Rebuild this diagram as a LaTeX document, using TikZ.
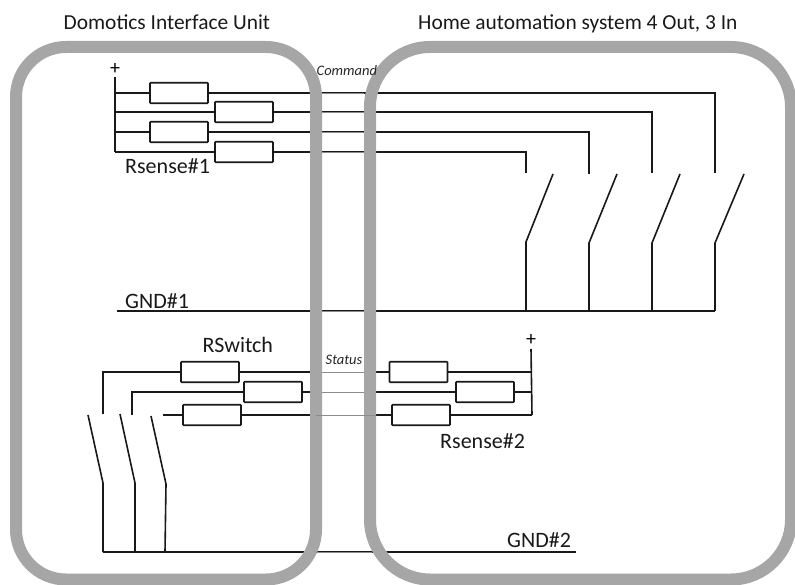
\documentclass[tikz,border=0pt]{standalone}
\usepackage{fontspec}
\setmainfont{Carlito}
\tikzset{
  x=1pt,y=-1pt,
  res/.style={draw=black!90,line width=1.6pt,fill=white,rounded corners=0.8pt,minimum width=58pt,minimum height=20.5pt,inner sep=0pt,outer sep=0pt},
  wire/.style={draw=black!90,line width=1.6pt},
  link/.style={draw=black!45,line width=0.8pt},
  frame/.style={draw=black!35,line width=12pt},
  lab/.style={inner sep=0pt,font=\fontsize{22}{24}\selectfont,text=black!90},
  ttl/.style={inner sep=0pt,font=\fontsize{21.4}{24}\selectfont,text=black!90},
  small/.style={inner sep=0pt,font=\itshape\fontsize{14.5}{16}\selectfont,text=black!85},
  plus/.style={inner sep=0pt,font=\fontsize{20}{22}\selectfont},
}
\begin{document}
\begin{tikzpicture}
\useasboundingbox (0,0) rectangle (795,585);
% named points
\coordinate (ct) at (115,77); \coordinate (cb) at (115,152);
\coordinate (c1) at (115,93); \coordinate (c2) at (115,112); \coordinate (c3) at (115,132);
\coordinate (a1) at (715,93); \coordinate (a2) at (652,112); \coordinate (a3) at (589,132); \coordinate (a4) at (526,152);
\coordinate (t1) at (715,173); \coordinate (t2) at (652,173); \coordinate (t3) at (589,174); \coordinate (t4) at (526,173);
\coordinate (h1) at (715,243); \coordinate (h2) at (652,243); \coordinate (h3) at (589,243); \coordinate (h4) at (526,242);
\coordinate (e1) at (744,174); \coordinate (e2) at (680,174); \coordinate (e3) at (617,174); \coordinate (e4) at (553,174);
\coordinate (g1s) at (117,311); \coordinate (g1e) at (715,311);
\coordinate (b1) at (715,311); \coordinate (b2) at (652,311); \coordinate (b3) at (589,311); \coordinate (b4) at (526,311);
% command resistors
\node[res] (r1) at (179,93) {};
\node[res] (r2) at (244,112) {};
\node[res] (r3) at (179,132) {};
\node[res] (r4) at (244,152) {};
% status resistors
\node[res] (s1) at (210,372) {};
\node[res] (s2) at (273,392) {};
\node[res] (s3) at (212,415) {};
\node[res] (q1) at (418.5,372) {};
\node[res] (q2) at (485,392) {};
\node[res] (q3) at (421,415) {};
% lower points
\coordinate (l1) at (103,372); \coordinate (l2) at (132,392); \coordinate (l3) at (163,415);
\coordinate (lt1) at (103,414); \coordinate (lt2) at (132,415);
\coordinate (sw1a) at (88,415); \coordinate (sw1b) at (103,483); \coordinate (sw1c) at (103,552);
\coordinate (sw2a) at (120,414); \coordinate (sw2b) at (135,483); \coordinate (sw2c) at (135,552);
\coordinate (sw3a) at (151,416); \coordinate (sw3b) at (166,484); \coordinate (sw3c) at (165,552);
\coordinate (g2e) at (576,552);
\coordinate (pt) at (531,349); \coordinate (p1) at (531,372); \coordinate (p2) at (531,392); \coordinate (pb) at (532,415);
\coordinate (f1a) at (322,372); \coordinate (f1b) at (376,372);
\coordinate (f2a) at (322,392); \coordinate (f2b) at (376,392);
\coordinate (f3a) at (318,415); \coordinate (f3b) at (373,415);
% upper wires
\draw[wire] (ct) -- (cb);
\draw[wire] (c1) -- (r1.west) (r1.east) -- (a1) -- (t1);
\draw[wire] (c2) -- (r2.west) (r2.east) -- (a2) -- (t2);
\draw[wire] (c3) -- (r3.west) (r3.east) -- (a3) -- (t3);
\draw[wire] (cb) -- (r4.west) (r4.east) -- (a4) -- (t4);
\draw[wire] (e1) -- (h1) -- (b1);
\draw[wire] (e2) -- (h2) -- (b2);
\draw[wire] (e3) -- (h3) -- (b3);
\draw[wire] (e4) -- (h4) -- (b4);
\draw[wire] (g1s) -- (g1e);
% lower wires
\draw[wire] (lt1) -- (l1) -- (s1.west) (s1.east) -- (f1a);
\draw[wire] (lt2) -- (l2) -- (s2.west) (s2.east) -- (f2a);
\draw[wire] (l3) -- (s3.west) (s3.east) -- (f3a);
\draw[wire] (sw1a) -- (sw1b) -- (sw1c);
\draw[wire] (sw2a) -- (sw2b) -- (sw2c);
\draw[wire] (sw3a) -- (sw3b) -- (sw3c);
\draw[wire] (sw1c) -- (g2e);
\draw[wire] (pt) -- (pb);
\draw[wire] (f1b) -- (q1.west) (q1.east) -- (p1);
\draw[wire] (f2b) -- (q2.west) (q2.east) -- (p2);
\draw[wire] (f3b) -- (q3.west) (q3.east) -- (pb);
% frames
\path[frame,rounded corners=50pt] (16,47) rectangle (316,579.5);
\path[frame,rounded corners=60pt] (370,47) rectangle (791,579.5);
% thin links across the gap
\coordinate (m1) at (322,93); \coordinate (n1) at (364,93);
\coordinate (m2) at (322,112); \coordinate (n2) at (364,112);
\coordinate (m3) at (322,132); \coordinate (n3) at (364,132);
\coordinate (m4) at (322,152); \coordinate (n4) at (364,152);
\coordinate (m5) at (322,311); \coordinate (n5) at (364,311);
\coordinate (m6) at (322,372); \coordinate (n6) at (364,372);
\coordinate (m7) at (322,392); \coordinate (n7) at (364,392);
\coordinate (m8) at (316,415); \coordinate (n8) at (376,415);
\coordinate (m9) at (316,552); \coordinate (n9) at (372,552);
\foreach \i in {1,...,9} {\draw[link] (m\i) -- (n\i);}
% labels
\node[ttl,anchor=base west] (title1) at (63.5,30) {Domotics Interface Unit};
\node[ttl,anchor=base west] (title2) at (418,30) {Home automation system 4 Out, 3 In};
\node[small,anchor=west] (cmd) at (316.5,71) {Command};
\node[small,anchor=west] (sts) at (325.5,360) {Status};
\node[lab,anchor=west] (rs1) at (125,166) {Rsense\#1};
\node[lab,anchor=west] (rsw) at (202.5,345) {RSwitch};
\node[lab,anchor=west] (rs2) at (440,441) {Rsense\#2};
\node[lab,anchor=west] (g1) at (125,301) {GND\#1};
\node[lab,anchor=west] (g2) at (507,540) {GND\#2};
\node[plus] (pl1) at (115,69) {+};
\node[plus] (pl2) at (531,340) {+};
\end{tikzpicture}
\end{document}
